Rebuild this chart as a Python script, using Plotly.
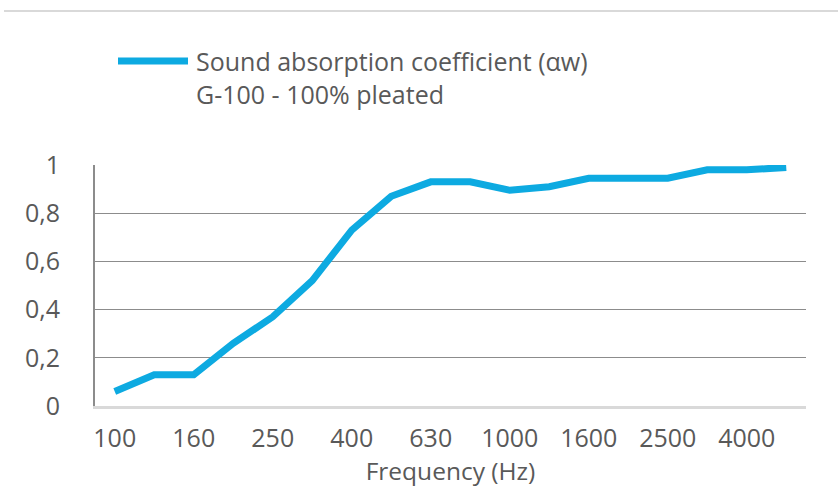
import plotly.graph_objects as go

freqs = ["100", "125", "160", "200", "250", "315", "400", "500", "630", "800",
         "1000", "1250", "1600", "2000", "2500", "3150", "4000", "5000"]
alpha = [0.06, 0.13, 0.13, 0.26, 0.37, 0.52, 0.73, 0.87, 0.93, 0.93,
         0.895, 0.91, 0.945, 0.945, 0.945, 0.98, 0.98, 0.99]
x_ticks = ["100", "160", "250", "400", "630", "1000", "1600", "2500", "4000"]
y_ticks = [0, 0.2, 0.4, 0.6, 0.8, 1.0]
y_ticktext = ["0", "0,2", "0,4", "0,6", "0,8", "1"]
series_name = "Sound absorption coefficient (\u03b1w)<br>G-100 - 100% pleated"

W, H = 838, 488
L, R, T, B = 95, 32, 165, 82
pw, ph = W - L - R, H - T - B

def px_x(p):
    return (p - L) / pw

def px_y(p):
    return (H - B - p) / ph

BLUE = "#0DAAE1"
TXT = "#595959"
FONT = "Open Sans"

fig = go.Figure()
fig.add_trace(go.Scatter(x=freqs, y=alpha, mode="lines",
                         line=dict(color=BLUE, width=7), showlegend=False,
                         name="Sound absorption coefficient"))

fig.update_layout(
    width=W, height=H,
    margin=dict(l=L, r=R, t=T, b=B, autoexpand=False),
    paper_bgcolor="white", plot_bgcolor="white",
    font=dict(family=FONT, color=TXT, size=24),
    xaxis=dict(type="category", categoryorder="array", categoryarray=freqs,
               tickvals=x_ticks, ticktext=x_ticks, showgrid=False,
               showline=True, linecolor="#D9D9D9", linewidth=2.5,
               ticks="", tickfont=dict(size=25, color=TXT), ticklabelstandoff=8,
               range=[-0.5, len(freqs) - 0.5], automargin=False,
               title=dict(text="Frequency (Hz)", font=dict(size=24.5, color=TXT), standoff=8),
               zeroline=False),
    yaxis=dict(range=[0, 1], tickvals=y_ticks, ticktext=y_ticktext,
               showgrid=True, gridcolor="#8C8C8C", gridwidth=1.4,
               showline=True, linecolor="#8C8C8C", linewidth=2,
               ticks="", tickfont=dict(size=25, color=TXT), ticklabelstandoff=28,
               automargin=False, zeroline=False),
)

# top border line
fig.add_shape(type="line", xref="paper", yref="paper",
              x0=px_x(4), x1=px_x(838), y0=px_y(11), y1=px_y(11),
              line=dict(color="#D9D9D9", width=2))
# legend (manual)
fig.add_shape(type="line", xref="paper", yref="paper",
              x0=px_x(118), x1=px_x(188), y0=px_y(61), y1=px_y(61),
              line=dict(color=BLUE, width=7))
fig.add_annotation(xref="paper", yref="paper", x=px_x(194), y=px_y(42),
                   xanchor="left", yanchor="top", align="left", showarrow=False,
                   text=series_name, font=dict(size=25, color=TXT, family=FONT))

fig.write_html("out.html", post_script="document.body.style.margin='0';",
               config={"displayModeBar": False})
